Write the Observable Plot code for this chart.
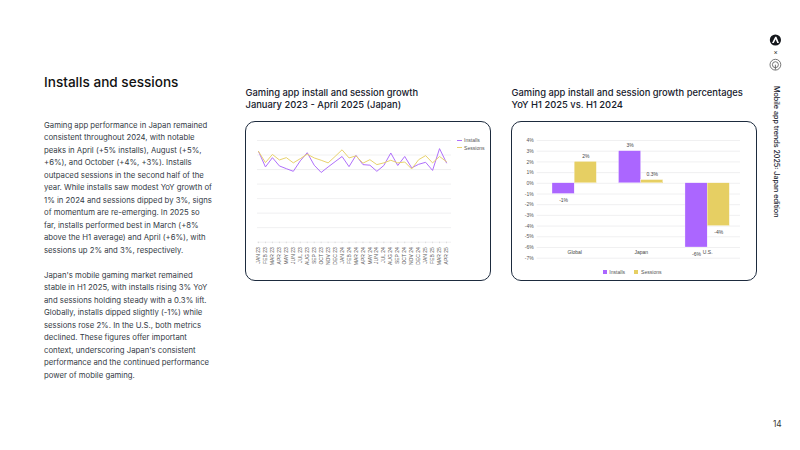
<!DOCTYPE html>
<html><head><meta charset="utf-8">
<script src="https://cdn.jsdelivr.net/npm/d3@7"></script>
<script src="https://cdn.jsdelivr.net/npm/@observablehq/plot@0.6"></script>
<style>
html,body{margin:0;padding:0;background:#fff;width:800px;height:450px;overflow:hidden;font-family:Inter,sans-serif;color:#1c2331}
.a{position:absolute;white-space:nowrap}
.card{position:absolute;border:1px solid #1d2b3e;border-radius:10px;box-sizing:border-box;top:121px;height:159.5px}
.h{font-size:9.4px;font-weight:500;line-height:12.4px;color:#16202c}
.p{font-size:7.75px;line-height:12.48px;color:#333a45;left:44px}
.lg{font-family:"Liberation Sans",sans-serif;font-size:5.1px;color:#555}
.plot{position:absolute}
svg{overflow:visible}
</style></head><body>
<div class="a" style="left:44px;top:73px;font-size:13.6px;font-weight:500;color:#111;line-height:18px">Installs and sessions</div>
<div class="a p" style="top:119px">Gaming app performance in Japan remained<br>consistent throughout 2024, with notable<br>peaks in April (+5% installs), August (+5%,<br>+6%), and October (+4%, +3%). Installs<br>outpaced sessions in the second half of the<br>year. While installs saw modest YoY growth of<br>1% in 2024 and sessions dipped by 3%, signs<br>of momentum are re-emerging. In 2025 so<br>far, installs performed best in March (+8%<br>above the H1 average) and April (+6%), with<br>sessions up 2% and 3%, respectively.</div>
<div class="a p" style="top:269px">Japan's mobile gaming market remained<br>stable in H1 2025, with installs rising 3% YoY<br>and sessions holding steady with a 0.3% lift.<br>Globally, installs dipped slightly (-1%) while<br>sessions rose 2%. In the U.S., both metrics<br>declined. These figures offer important<br>context, underscoring Japan's consistent<br>performance and the continued performance<br>power of mobile gaming.</div>
<div class="a h" style="left:245.5px;top:87px">Gaming app install and session growth<br>January 2023 - April 2025 (Japan)</div>
<div class="a h" style="left:511.5px;top:87px">Gaming app install and session growth percentages<br>YoY H1 2025 vs. H1 2024</div>
<div class="card" style="left:245px;width:246px"></div>
<div class="card" style="left:511px;width:246px"></div>
<div class="plot" id="line" style="left:245px;top:120px"></div>
<div class="plot" id="bar" style="left:510px;top:120px"></div>

<svg class="a" style="left:769px;top:34px" width="14" height="38" viewBox="0 0 14 38">
<circle cx="6.4" cy="6" r="5.6" fill="#15181d"/><path d="M3 8.9 L6.2 2.7 L7.4 2.7 L10 8.9 L8.2 8.9 L6.7 5.3 L4.8 8.9Z" fill="#fff"/>
<circle cx="6.4" cy="30.7" r="5.4" fill="none" stroke="#555" stroke-width=".8"/><circle cx="6.4" cy="30.7" r="3" fill="none" stroke="#555" stroke-width=".8"/><path d="M6.4 30.7V35.7" stroke="#555" stroke-width=".8"/>
</svg>
<div class="a" style="left:773.5px;top:46.5px;font-size:6.5px;color:#222;line-height:10px">×</div>
<div class="a" style="left:770.7px;top:86px;font-size:7.15px;font-weight:500;color:#16202c;line-height:10px;writing-mode:vertical-rl">Mobile app trends 2025: Japan edition</div>
<div class="a" style="left:773px;top:419px;font-size:8.3px;color:#333;line-height:10px">14</div>

<div class="a lg" style="left:464px;top:137px;line-height:6px">Installs</div>
<div class="a lg" style="left:464px;top:145px;line-height:6px">Sessions</div>
<div class="a" style="left:457px;top:139.6px;width:4.6px;height:.9px;background:#b070fb"></div>
<div class="a" style="left:457px;top:147.3px;width:4.6px;height:.9px;background:#e8d26e"></div>
<div class="a" style="left:603px;top:269.7px;width:4.2px;height:4px;background:#ab66ff"></div>
<div class="a" style="left:634.3px;top:269.7px;width:4.2px;height:4px;background:#e6cf63"></div>
<div class="a lg" style="left:609.3px;top:269px;line-height:6px">Installs</div>
<div class="a lg" style="left:641px;top:269px;line-height:6px">Sessions</div>

<script>
const months = ["JAN 23","FEB 23","MAR 23","APR 23","MAY 23","JUN 23","JUL 23","AUG 23","SEP 23","OCT 23","NOV 23","DEC 23","JAN 24","FEB 24","MAR 24","APR 24","MAY 24","JUN 24","JUL 24","AUG 24","SEP 24","OCT 24","NOV 24","DEC 24","JAN 25","FEB 25","MAR 25","APR 25"];
const installs = [11.25,5.9,9.1,6.25,5.3,4.4,8,10.8,6.5,4,5.9,7.7,9.5,6,9.9,6.7,6.5,4.4,6.4,10.7,6.4,9.5,5.6,6.8,7.5,4.7,12.2,7.3];
const sessions = [11.25,7.4,10.2,8.3,9.1,7.3,8.75,10.3,9,8.2,7.3,9.5,11.8,9,9.7,7.2,8.4,6.7,7.3,8.2,7.3,7.6,5.2,8.4,9.8,7.3,9.5,7.7];
const lineGrid = [15,10,5,0,-5,-10,-15,-20];

const regions = ["Global","Japan","U.S."];
const regionInstalls = [-1,3,-6];
const regionSessions = [2,0.3,-4];
const regionLabelsInstalls = ["-1%","3%","-6%"];
const regionLabelsSessions = ["2%","0.3%","-4%"];
const barTicks = [4,3,2,1,0,-1,-2,-3,-4,-5,-6,-7];

const PURPLE="#ab66ff", YELLOW="#e6cf63", GRID="#eeeeef", FONT="Liberation Sans";

const lineRows = months.flatMap((m,i)=>[{m,v:installs[i],s:"Installs"},{m,v:sessions[i],s:"Sessions"}]);
document.getElementById("line").append(Plot.plot({
  width:255,height:160,marginLeft:12,marginRight:49,marginTop:20,marginBottom:38.3,
  style:{background:"transparent",fontFamily:FONT,fontSize:"5px",color:"#555"},
  x:{type:"point",domain:months,range:[13,201],padding:0,round:false},
  y:{domain:[-20,15]},
  color:{domain:["Installs","Sessions"],range:["#b070fb","#e8d26e"]},
  marks:[
    Plot.ruleY(lineGrid,{stroke:GRID,strokeWidth:.9}),
    Plot.axisX({anchor:"bottom",tickRotate:-90,tickSize:1.5,tickPadding:3.5,stroke:"#ddd",fontSize:5,label:null,fill:"#555"}),
    Plot.axisY({ticks:[],label:null,tickSize:0}),
    Plot.line(lineRows,{x:"m",y:"v",z:"s",stroke:"s",strokeWidth:1,curve:"linear"})
  ]
}));

const slots = regions.flatMap((r,i)=>i<regions.length-1?[r+"|I",r+"|S","gap"+i]:[r+"|I",r+"|S"]);
const barRows = regions.flatMap((r,i)=>[
  {k:r+"|I",v:regionInstalls[i],s:"Installs",t:regionLabelsInstalls[i]},
  {k:r+"|S",v:regionSessions[i],s:"Sessions",t:regionLabelsSessions[i]}]);
document.getElementById("bar").append(Plot.plot({
  width:250,height:160,marginLeft:26.7,marginRight:20,marginTop:20,marginBottom:22.3,
  style:{background:"transparent",fontFamily:FONT,fontSize:"5px",color:"#555"},
  x:{type:"band",domain:slots,range:[42,219.3],padding:0,round:false,axis:null},
  y:{domain:[-7,4]},
  color:{domain:["Installs","Sessions"],range:[PURPLE,YELLOW]},
  marks:[
    Plot.ruleY(barTicks,{stroke:GRID,strokeWidth:.9}),
    Plot.axisY({ticks:barTicks,tickFormat:d=>d+"%",tickSize:0,tickPadding:3.5,fontSize:5,label:null,fill:"#555"}),
    Plot.barY(barRows,{x:"k",y:"v",fill:"s",stroke:"#fff",strokeWidth:.3}),
    Plot.text(barRows.filter(d=>d.v>=0),{x:"k",y:"v",text:"t",dy:-6,fontSize:5,fill:"#444"}),
    Plot.text(barRows.filter(d=>d.v<0),{x:"k",y:"v",text:"t",dy:6.5,fontSize:5,fill:"#444"}),
    Plot.text(regions,{x:d=>d+"|S",y:-6.46,text:d=>d,dx:-11,fontSize:5,fill:"#444"})
  ]
}));
</script>
</body></html>
